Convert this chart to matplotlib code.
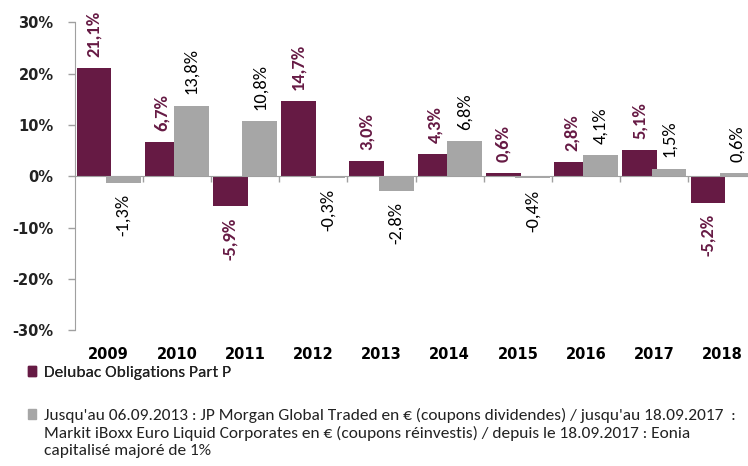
import matplotlib
matplotlib.use("Agg")
import matplotlib.pyplot as plt
from matplotlib import font_manager
from matplotlib.patches import Patch
import numpy as np

years = ["2009", "2010", "2011", "2012", "2013", "2014", "2015", "2016", "2017", "2018"]
fund = [21.1, 6.7, -5.9, 14.7, 3.0, 4.3, 0.6, 2.8, 5.1, -5.2]
bench = [-1.3, 13.8, 10.8, -0.3, -2.8, 6.8, -0.4, 4.1, 1.5, 0.6]
fund_name = "Delubac Obligations Part P"
bench_lines = [
    "Jusqu'au 06.09.2013 : JP Morgan Global Traded en € (coupons dividendes) / jusqu'au 18.09.2017  :",
    "Markit iBoxx Euro Liquid Corporates en € (coupons réinvestis) / depuis le 18.09.2017 : Eonia",
    "capitalisé majoré de 1%",
]
yticks = [-30, -20, -10, 0, 10, 20, 30]

MAROON = "#661A44"
GREY = "#A6A6A6"
AXIS = "#A0A0A0"

names = {f.name for f in font_manager.fontManager.ttflist}
body = [n for n in ["Carlito", "Lato", "DejaVu Sans"] if n in names]

fig = plt.figure(figsize=(7.48, 4.66), dpi=100)
ax = fig.add_axes([0.0996, 0.2918, 0.912, 0.660])
renderer = fig.canvas.get_renderer()

# font size that makes the first legend line about 700 px wide
probe = fig.text(0, 0, bench_lines[0], family=body, fontsize=10)
leg_size = 10 * 695 / probe.get_window_extent(renderer).width
probe.remove()
probe = fig.text(0, 0, "21,1%", family=body, fontsize=10, fontweight="bold")
lab_size = 10 * 46 / probe.get_window_extent(renderer).width
probe.remove()

x = np.arange(len(years))
w = 0.51
off = 0.215
ax.bar(x - off, fund, w, color=MAROON, zorder=2)
ax.bar(x + off, bench, w, color=GREY, zorder=3)

def fmt(v):
    return f"{v:.1f}".replace(".", ",") + "%"

for xi, v in zip(x - off, fund):
    ax.annotate(fmt(v), (xi, v), xytext=(0, 8 if v >= 0 else -8), textcoords="offset points",
                rotation=90, ha="center", va="bottom" if v >= 0 else "top",
                color=MAROON, fontsize=lab_size, fontweight="bold", family=body)
for xi, v in zip(x + off, bench):
    ax.annotate(fmt(v), (xi, v), xytext=(0, 8 if v >= 0 else -8), textcoords="offset points",
                rotation=90, ha="center", va="bottom" if v >= 0 else "top",
                color="black", fontsize=lab_size, family=body)

ax.set_xlim(-0.5, len(years) - 0.5)
ax.set_ylim(-30, 30)
ax.set_yticks(yticks)
ax.set_yticklabels([f"{t}%" for t in yticks])
ax.tick_params(axis="y", length=5, width=1, color=AXIS, pad=10, labelsize=10.5, labelcolor="#222222")
for lab in ax.get_yticklabels():
    lab.set_fontweight("bold")

ax.spines["top"].set_visible(False)
ax.spines["right"].set_visible(False)
ax.spines["left"].set_color(AXIS)
ax.spines["bottom"].set_color(AXIS)
ax.spines["bottom"].set_position(("data", 0))
ax.set_xticks(x[:-1] + 0.5)
ax.set_xticklabels([])
ax.tick_params(axis="x", length=4, width=1, color=AXIS, direction="out")

sec = ax.secondary_xaxis(0.0)
sec.set_xticks(x)
sec.set_xticklabels(years)
sec.tick_params(length=0, pad=12, labelsize=10.5)
sec.spines["bottom"].set_visible(False)
for lab in sec.get_xticklabels():
    lab.set_fontweight("bold")

leg_kw = dict(loc="upper left", frameon=False, handlelength=0.45, handleheight=0.45,
              handletextpad=0.45, borderpad=0, borderaxespad=0,
              prop={"family": body, "size": leg_size})
leg1 = fig.legend(handles=[Patch(color=MAROON)], labels=[fund_name],
                  bbox_to_anchor=(0.038, 0.214), labelcolor="#222222", **leg_kw)
fig.add_artist(leg1)
handles2 = [Patch(color=GREY)] + [Patch(color="none") for _ in bench_lines[1:]]
fig.legend(handles=handles2, labels=bench_lines, bbox_to_anchor=(0.038, 0.124),
           labelspacing=0.15, labelcolor="#222222", **leg_kw)

fig.savefig("out.png", dpi=100)
